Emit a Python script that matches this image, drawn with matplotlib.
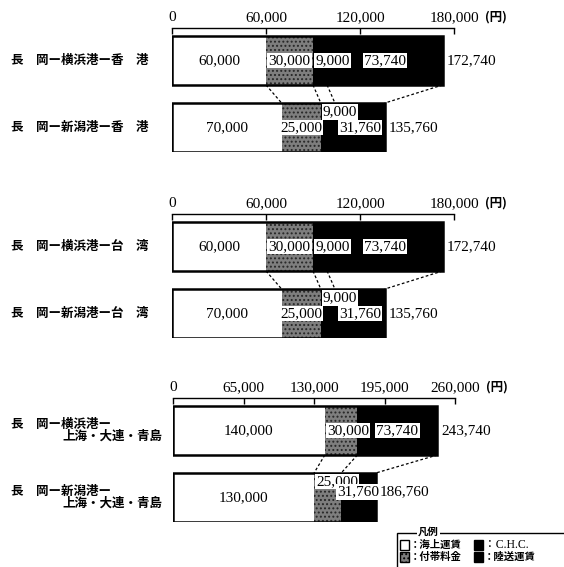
import matplotlib
matplotlib.use("Agg")
import matplotlib.pyplot as plt
from matplotlib.patches import Rectangle
from matplotlib.transforms import blended_transform_factory

plt.rcParams["font.family"] = ["Liberation Serif", "Noto Sans CJK JP"]
plt.rcParams["hatch.linewidth"] = 0.9

JP = ["Noto Sans CJK JP", "DejaVu Sans"]
NUM = ["Liberation Serif", "DejaVu Serif"]

# 運賃の内訳（円）
routes_hk = ["長　岡ー横浜港ー香　港", "長　岡ー新潟港ー香　港"]
routes_tw = ["長　岡ー横浜港ー台　湾", "長　岡ー新潟港ー台　湾"]
routes_cn = [("長　岡ー横浜港ー", "上海・大連・青島"), ("長　岡ー新潟港ー", "上海・大連・青島")]

sea_hk = [60000, 70000]
extra_hk = [30000, 25000]
chc_hk = [9000, 9000]
land_hk = [73740, 31760]

sea_tw = [60000, 70000]
extra_tw = [30000, 25000]
chc_tw = [9000, 9000]
land_tw = [73740, 31760]

sea_cn = [140000, 130000]
extra_cn = [30000, 25000]
chc_cn = [0, 0]
land_cn = [73740, 31760]

ticks_a = [0, 60000, 120000, 180000]
ticks_b = [0, 65000, 130000, 195000, 260000]

legend_items = ["：海上運賃", "：付帯料金", "：C.H.C.", "：陸送運賃"]

W, H = 564, 567
fig = plt.figure(figsize=(W / 100, H / 100), dpi=100)

BAR_H = 0.73
Y_TOP = -0.485
Y_BOT = 1.365

seg_styles = [
    dict(facecolor="white", edgecolor="none"),
    dict(facecolor="#7e7e7e", edgecolor="#262626", hatch="....", linewidth=0),
    dict(facecolor="black", edgecolor="none"),
    dict(facecolor="black", edgecolor="none"),
]

box = dict(boxstyle="square,pad=0.08", fc="white", ec="none")


def fmt(v):
    return f"{v:,}"


def draw_panel(left_px, top_px, xmax, ticks, routes, sea, extra, chc, land, placements):
    ax = fig.add_axes([left_px / W, 1 - (top_px + 124) / H, 282 / W, 124 / H])
    ax.set_xlim(0, xmax)
    ax.set_ylim(Y_BOT, Y_TOP)
    for s in ["left", "right", "bottom"]:
        ax.spines[s].set_visible(False)
    ax.spines["top"].set_linewidth(1.0)
    ax.xaxis.tick_top()
    ax.set_xticks(ticks)
    ax.set_xticklabels([fmt(t) for t in ticks], fontsize=11, family=NUM)
    ax.tick_params(axis="x", direction="in", length=4, width=1, pad=3)
    ax.set_yticks([])
    ax.patch.set_visible(False)

    dx = xmax / 282  # one pixel in data units
    parts = [sea, extra, chc, land]
    bounds = []
    for i in range(2):
        left = 0
        edges = []
        for k, part in enumerate(parts):
            w = part[i]
            if w > 0:
                ax.barh(i, w, left=left, height=BAR_H, **seg_styles[k])
            edges.append(left + w)
            left += w
        total = left
        ax.barh(i, total, height=BAR_H, fill=False, edgecolor="black", linewidth=1.8)
        bounds.append(edges)

        starts = [0, edges[0], edges[1], edges[2]]
        for k, ha, dy in placements[i]:
            w = parts[k][i]
            if ha == "center":
                x = starts[k] + w / 2
            else:
                x = starts[k] + 2 * dx
            ax.text(x, i + dy, fmt(w), ha=ha, va="center", fontsize=11,
                    family=NUM, bbox=box if k > 0 else None, clip_on=False)
        tdy = placements[i][-1][2] if placements[i][-1][0] == 3 else 0
        ax.text(total + 4 * dx, i + tdy, fmt(total), ha="left", va="center",
                fontsize=11, family=NUM, clip_on=False)

    # 上下の棒の境界を点線でつなぐ（C.H.C.=0 の重複境界は除く）
    prev = None
    for e1, e2 in zip(bounds[0], bounds[1]):
        if (e1, e2) == prev:
            continue
        prev = (e1, e2)
        ax.plot([e1, e2], [BAR_H / 2, 1 - BAR_H / 2], color="black", lw=0.9,
                ls=(0, (2.2, 1.8)), clip_on=False)

    unit_tr = blended_transform_factory(ax.transData, ax.transAxes)
    ax.text(xmax + 31 * dx, 1 + 11 / 124, "(円)", transform=unit_tr,
            ha="left", va="center", fontsize=9, family=JP, fontweight="bold")

    trans = blended_transform_factory(fig.transFigure, ax.transData)
    for i, r in enumerate(routes):
        if isinstance(r, tuple):
            ax.text(11 / W, i - 0.09, r[0], transform=trans, ha="left", va="center",
                    fontsize=9, family=JP, fontweight="bold")
            ax.text(162 / W, i + 0.09, r[1], transform=trans, ha="right", va="center",
                    fontsize=9, family=JP, fontweight="bold")
        else:
            ax.text(11 / W, i, r, transform=trans, ha="left", va="center",
                    fontsize=9, family=JP, fontweight="bold")
    return ax


pl_ab = [
    [(0, "center", 0), (1, "center", 0), (2, "left", 0), (3, "center", 0)],
    [(0, "center", 0), (1, "center", 0), (2, "left", -0.23), (3, "center", 0)],
]
pl_c = [
    [(0, "center", 0), (1, "left", 0), (3, "center", 0)],
    [(0, "center", 0), (1, "left", -0.24), (3, "center", -0.08)],
]

draw_panel(172, 28, 180000, ticks_a, routes_hk, sea_hk, extra_hk, chc_hk, land_hk, pl_ab)
draw_panel(172, 214, 180000, ticks_a, routes_tw, sea_tw, extra_tw, chc_tw, land_tw, pl_ab)
draw_panel(173, 398, 260000, ticks_b, routes_cn, sea_cn, extra_cn, chc_cn, land_cn, pl_c)


# 凡例
def fx(x):
    return x / W


def fy(y):
    return 1 - y / H


fig.patches.append(Rectangle((fx(397), fy(580)), fx(180), 47 / H, fill=False,
                             edgecolor="black", lw=1.0, transform=fig.transFigure))
fig.text(fx(418), fy(532), "凡例", ha="left", va="center", fontsize=7.5, family=JP,
         fontweight="bold", bbox=dict(boxstyle="square,pad=0.1", fc="white", ec="none"))

cells = [(400, 545, 0), (400, 557, 1), (474, 545, 2), (474, 557, 3)]
for x, y, k in cells:
    st = seg_styles[k]
    fig.patches.append(Rectangle((fx(x), fy(y + 5)), 9 / W, 10 / H, transform=fig.transFigure,
                                 facecolor=st["facecolor"], edgecolor="black",
                                 hatch=st.get("hatch"), lw=1.0))
    if k == 2:
        fig.text(fx(x + 10), fy(y), legend_items[k], ha="left", va="center", fontsize=8.5,
                 family=["Liberation Serif", "Noto Sans CJK JP"])
    else:
        fig.text(fx(x + 10), fy(y), legend_items[k], ha="left", va="center", fontsize=7.5,
                 family=JP, fontweight="bold")

fig.savefig("out.png", dpi=100)
